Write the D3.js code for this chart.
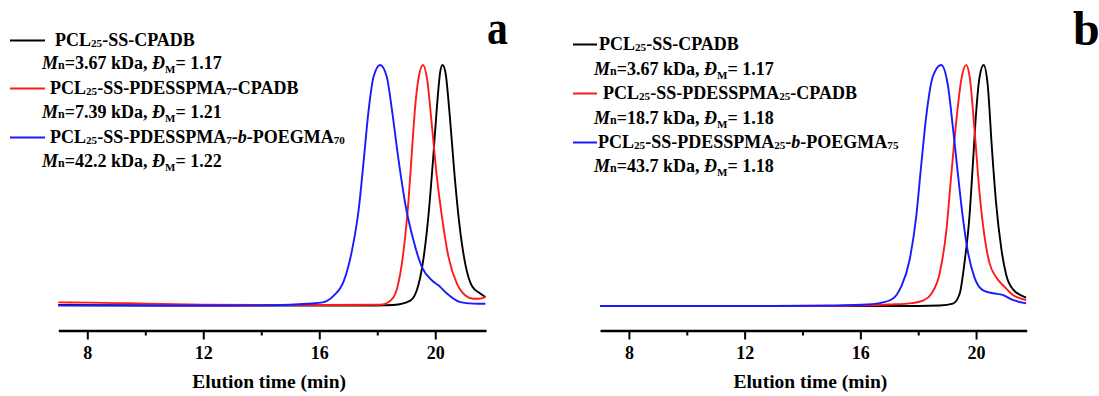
<!DOCTYPE html>
<html>
<head>
<meta charset="utf-8">
<script src="https://cdn.jsdelivr.net/npm/d3@7"></script>
<style>
  html, body { margin: 0; padding: 0; background: #fff; }
  svg { display: block; }
  text { font-family: "Liberation Serif", "Times New Roman", serif; font-weight: bold; fill: #000; }
</style>
</head>
<body>
<svg id="chart" width="1099" height="396"></svg>
<script>
// ---- GPC traces (normalised RI signal vs elution time, min) ----
// Panel a
const timeA_cpadb = [7, 12, 16, 18, 18.56, 19.14, 19.43, 19.6, 19.77, 19.92, 20.06, 20.17, 20.25, 20.35, 20.5, 20.66, 20.84, 21.04, 21.27, 21.55, 21.73];
const sigA_cpadb  = [0.002, 0, 0, 0, 0.002, 0.02, 0.09, 0.2, 0.38, 0.6, 0.83, 0.97, 1.0, 0.97, 0.79, 0.55, 0.33, 0.17, 0.08, 0.05, 0.035];
const timeA_pdes  = [7, 8, 9, 10, 11, 12, 14, 16, 18.1, 18.45, 18.68, 18.91, 19.08, 19.2, 19.31, 19.43, 19.58, 19.72, 19.89, 20.06, 20.23, 20.46, 20.75, 21.04, 21.32, 21.5, 21.73];
const sigA_pdes   = [0.013, 0.012, 0.01, 0.008, 0.005, 0.003, 0.002, 0.002, 0.003, 0.02, 0.07, 0.23, 0.44, 0.65, 0.83, 0.95, 1.0, 0.94, 0.74, 0.53, 0.37, 0.2, 0.09, 0.042, 0.028, 0.028, 0.035];
const timeA_block = [7, 10, 13, 15, 15.6, 16.15, 16.49, 16.84, 17.13, 17.36, 17.53, 17.7, 17.87, 18.1, 18.33, 18.51, 18.74, 18.97, 19.25, 19.54, 19.89, 20.12, 20.41, 20.87, 21.3, 21.73];
const sigA_block  = [0, 0, 0, 0.003, 0.007, 0.014, 0.04, 0.1, 0.23, 0.4, 0.6, 0.81, 0.95, 1.0, 0.95, 0.81, 0.6, 0.42, 0.27, 0.16, 0.104, 0.083, 0.049, 0.014, 0.008, 0.007];

// Panel b
const timeB_cpadb = [7, 12, 16, 18, 18.74, 19.2, 19.43, 19.6, 19.77, 19.89, 20.0, 20.12, 20.26, 20.4, 20.55, 20.69, 20.87, 21.04, 21.27, 21.73];
const sigB_cpadb  = [0, 0, 0, 0, 0.002, 0.01, 0.05, 0.18, 0.37, 0.59, 0.8, 0.95, 1.0, 0.92, 0.65, 0.43, 0.24, 0.13, 0.07, 0.035];
const timeB_pdes  = [7, 12, 15, 16, 17, 17.8, 18.16, 18.45, 18.74, 18.97, 19.14, 19.31, 19.49, 19.66, 19.79, 19.94, 20.12, 20.29, 20.46, 20.69, 20.98, 21.27, 21.73];
const sigB_pdes   = [0, 0, 0, 0.002, 0.006, 0.012, 0.022, 0.05, 0.135, 0.31, 0.54, 0.76, 0.94, 1.0, 0.94, 0.74, 0.47, 0.29, 0.18, 0.12, 0.08, 0.046, 0.025];
const timeB_block = [7, 10, 13, 15, 16, 16.67, 17.12, 17.41, 17.7, 17.93, 18.1, 18.28, 18.5, 18.79, 19.02, 19.2, 19.37, 19.54, 19.71, 19.94, 20.23, 20.58, 20.92, 21.27, 21.73];
const sigB_block  = [0, 0, 0, 0.002, 0.005, 0.012, 0.03, 0.08, 0.19, 0.37, 0.58, 0.79, 0.95, 1.0, 0.92, 0.74, 0.55, 0.37, 0.23, 0.12, 0.066, 0.053, 0.046, 0.025, 0.011];

// Legend labels (_{..} = subscript, *..* = italic) and sample data
const namesA = ["PCL_{25}-SS-CPADB", "PCL_{25}-SS-PDESSPMA_{7}-CPADB", "PCL_{25}-SS-PDESSPMA_{7}-*b*-POEGMA_{70}"];
const mnA    = [3.67, 7.39, 42.2];
const dispA  = [1.17, 1.21, 1.22];
const namesB = ["PCL_{25}-SS-CPADB", "PCL_{25}-SS-PDESSPMA_{25}-CPADB", "PCL_{25}-SS-PDESSPMA_{25}-*b*-POEGMA_{75}"];
const mnB    = [3.67, 18.7, 43.7];
const dispB  = [1.17, 1.18, 1.18];

const seriesColors = ["#000000", "#ff1a1a", "#1a1aff"];
const majorTicks = [8, 12, 16, 20];
const minorTicks = [10, 14, 18];
const xTitle = "Elution time (min)";

// ---- layout ----
const svg = d3.select("#chart");
const panels = [
  { tag: "a", tagX: 487, tagY: 44, tagSize: 49, tagScale: 0.85,
    x0: 58.3, x1: 486, yBase: 305.5, yTop: 65, axisY: 330.5,
    series: [[timeA_cpadb, sigA_cpadb], [timeA_pdes, sigA_pdes], [timeA_block, sigA_block]],
    names: namesA, mn: mnA, disp: dispA,
    legLine: [10, 45], legText: [55, 50, 50], mnX: 42, rowY: [46, 69, 94, 118, 143, 167] },
  { tag: "b", tagX: 1073, tagY: 45, tagSize: 48, tagScale: 1,
    x0: 600, x1: 1026.7, yBase: 306, yTop: 65, axisY: 330.5,
    series: [[timeB_cpadb, sigB_cpadb], [timeB_pdes, sigB_pdes], [timeB_block, sigB_block]],
    names: namesB, mn: mnB, disp: dispB,
    legLine: [573, 597], legText: [599, 603, 598], mnX: 594, rowY: [50, 75, 99, 124, 148, 172] }
];

// Write a label with simple markup into a <text> element
function richText(sel, str, size) {
  const re = /_\{([^}]*)\}|\*([^*]*)\*|([^_*]+)/g;
  let m, shift = 0;
  while ((m = re.exec(str)) !== null) {
    if (m[1] !== undefined) {
      sel.append("tspan").attr("font-size", size * 0.62).attr("dy", 1 - shift).text(m[1]);
      shift = 1;
    } else if (m[2] !== undefined) {
      sel.append("tspan").attr("font-style", "italic").attr("dy", -shift).text(m[2]);
      shift = 0;
    } else {
      sel.append("tspan").attr("dy", -shift).text(m[3]);
      shift = 0;
    }
  }
}

panels.forEach(p => {
  const g = svg.append("g");
  const x = d3.scaleLinear().domain([7, 21.75]).range([p.x0, p.x1]);
  const y = d3.scaleLinear().domain([0, 1]).range([p.yBase, p.yTop]);

  // traces
  const line = d3.line().x(d => x(d[0])).y(d => y(d[1])).curve(d3.curveMonotoneX);
  p.series.forEach((s, i) => {
    const pts = s[0].map((t, k) => [t, s[1][k]]);
    g.append("path").datum(pts)
      .attr("d", line)
      .attr("fill", "none")
      .attr("stroke", seriesColors[i])
      .attr("stroke-width", 1.9)
      .attr("stroke-linejoin", "round");
  });

  // x axis: minor ticks, then major ticks with labels
  g.append("g").attr("transform", `translate(0,${p.axisY})`)
    .call(d3.axisBottom(x).tickValues(minorTicks).tickSize(5).tickSizeOuter(0).tickFormat(""))
    .call(a => a.select(".domain").remove())
    .call(a => a.selectAll(".tick line").attr("stroke", "#000").attr("stroke-width", 2));
  g.append("g").attr("transform", `translate(0,${p.axisY})`)
    .call(d3.axisBottom(x).tickValues(majorTicks).tickSize(9).tickSizeOuter(0).tickPadding(6.5))
    .call(a => a.select(".domain").attr("stroke", "#000").attr("stroke-width", 2.6))
    .call(a => a.selectAll(".tick line").attr("stroke", "#000").attr("stroke-width", 2))
    .call(a => a.selectAll(".tick text")
      .attr("font-family", "'Liberation Serif', 'Times New Roman', serif")
      .attr("font-weight", "bold").attr("font-size", 18).attr("fill", "#000"));

  // axis title
  g.append("text")
    .attr("x", (p.x0 + p.x1) / 2 - 3)
    .attr("y", 388)
    .attr("text-anchor", "middle")
    .attr("font-size", 19.5)
    .text(xTitle);

  // panel tag
  g.append("text")
    .attr("transform", `translate(${p.tagX},${p.tagY}) scale(${p.tagScale},1)`)
    .attr("font-size", p.tagSize).text(p.tag);

  // legend
  p.names.forEach((name, i) => {
    const yName = p.rowY[2 * i];
    const yMn = p.rowY[2 * i + 1];
    g.append("line")
      .attr("x1", p.legLine[0]).attr("x2", p.legLine[1])
      .attr("y1", yName - 5.5).attr("y2", yName - 5.5)
      .attr("stroke", seriesColors[i]).attr("stroke-width", 2);
    const t = g.append("text").attr("x", p.legText[i]).attr("y", yName).attr("font-size", 18);
    richText(t, name, 18);

    const tm = g.append("text").attr("x", p.mnX).attr("y", yMn).attr("font-size", 18);
    tm.append("tspan").attr("font-style", "italic").text("M");
    tm.append("tspan").attr("font-size", 12).text("n");
    tm.append("tspan").text(`=${p.mn[i]} kDa, `);
    tm.append("tspan").attr("font-style", "italic").text("Đ");
    tm.append("tspan").attr("font-size", 11).attr("dy", 4).text("M");
    tm.append("tspan").attr("dy", -4).text(`= ${p.disp[i]}`);
  });
});
</script>
</body>
</html>
